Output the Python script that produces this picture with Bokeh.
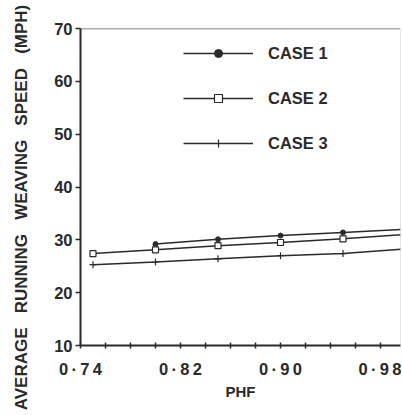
import math
from bokeh.plotting import figure
from bokeh.layouts import row
from bokeh.models import FixedTicker, Range1d, Legend, LegendItem, Span, Label
from bokeh.embed import file_html
from bokeh.resources import INLINE

# ---- data ----
phf_case1 = [0.80, 0.85, 0.90, 0.95, 1.00]
speed_case1 = [29.2, 30.1, 30.8, 31.4, 32.0]
phf_case23 = [0.75, 0.80, 0.85, 0.90, 0.95, 1.00]
speed_case2 = [27.4, 28.1, 28.9, 29.5, 30.2, 31.0]
speed_case3 = [25.3, 25.8, 26.4, 27.0, 27.4, 28.3]
series_names = ["CASE 1", "CASE 2", "CASE 3"]
x_major_ticks = [0.74, 0.82, 0.90, 0.98]
x_tick_labels = ["0\u2009·\u20097\u20094", "0\u2009·\u20098\u20092",
                 "0\u2009·\u20099\u20090", "0\u2009·\u20099\u20098"]
x_minor_ticks = [0.76, 0.78, 0.80, 0.84, 0.86, 0.88, 0.92, 0.94, 0.96]
y_ticks = [10, 20, 30, 40, 50, 60, 70]
y_title_words = ["AVERAGE", "RUNNING", "WEAVING", "SPEED", "(MPH)"]

FONT = "Liberation Sans"
INK = "#2a2a2a"
X_END = 0.996
H = 412
LEFT_W = 32

# ---- narrow strip carrying the rotated y-axis title ----
strip = figure(width=LEFT_W, height=H, output_backend="svg", toolbar_location=None,
               x_range=Range1d(0, 1), y_range=Range1d(0, 1),
               x_axis_type=None, y_axis_type=None,
               min_border_left=0, min_border_right=0, min_border_top=0,
               min_border_bottom=0, frame_align=False)
strip.outline_line_color = None
strip.xgrid.visible = False
strip.ygrid.visible = False
strip.add_layout(Label(x=21, y=H - 207, x_units="screen", y_units="screen",
                       text=" \u00a0 ".join(y_title_words), angle=math.pi / 2,
                       text_align="center", text_baseline="middle",
                       text_font=FONT, text_font_style="bold", text_font_size="17px",
                       text_color=INK))

# ---- main chart ----
p = figure(width=401 - LEFT_W, height=H, output_backend="svg", toolbar_location=None,
           x_range=Range1d(0.74, X_END), y_range=Range1d(10, 70),
           min_border_left=80 - LEFT_W, min_border_top=28, min_border_right=1,
           min_border_bottom=67, frame_align=False)
p.outline_line_color = None
p.xgrid.visible = False
p.ygrid.visible = False

# frame top / right
p.add_layout(Span(location=70, dimension="width", line_color="#555555", line_width=1.5))
p.add_layout(Span(location=X_END, dimension="height", line_color="#d0d0d0", line_width=1))

# axes
p.xaxis.ticker = FixedTicker(ticks=x_major_ticks, minor_ticks=x_minor_ticks)
p.xaxis.major_label_overrides = {t: l for t, l in zip(x_major_ticks, x_tick_labels)}
p.yaxis.ticker = FixedTicker(ticks=y_ticks)
for ax in (p.xaxis, p.yaxis):
    ax.axis_line_color = INK
    ax.axis_line_width = 2
    ax.major_tick_line_color = INK
    ax.minor_tick_line_color = INK
    ax.major_tick_line_width = 1.5
    ax.minor_tick_line_width = 1.5
    ax.major_label_text_font = FONT
    ax.major_label_text_font_style = "bold"
    ax.major_label_text_color = INK
    ax.major_label_text_font_size = "16.5px"
    ax.axis_label_text_font = FONT
    ax.axis_label_text_font_style = "bold"
    ax.axis_label_text_color = INK
p.xaxis.major_tick_in = 3
p.xaxis.major_tick_out = 3
p.xaxis.minor_tick_in = 3
p.xaxis.minor_tick_out = 3
p.xaxis.major_label_standoff = 11
p.xaxis.axis_label = "PHF"
p.xaxis.axis_label_text_font_size = "15px"
p.xaxis.axis_label_standoff = 2
p.yaxis.major_tick_in = 0
p.yaxis.major_tick_out = 5
p.yaxis.minor_tick_in = 0
p.yaxis.minor_tick_out = 0
p.yaxis.major_label_standoff = 3

# series
l1 = p.line(phf_case1, speed_case1, line_color=INK, line_width=1.5)
m1 = p.scatter(phf_case1, speed_case1, marker="circle", size=5,
               fill_color=INK, line_color=INK)
l2 = p.line(phf_case23, speed_case2, line_color=INK, line_width=1.5)
m2 = p.scatter(phf_case23, speed_case2, marker="square", size=6,
               fill_color="white", line_color=INK, line_width=1.2)
l3 = p.line(phf_case23, speed_case3, line_color=INK, line_width=1.5)
m3 = p.scatter(phf_case23, speed_case3, marker="cross", size=7,
               line_color=INK, line_width=1.2)

legend = Legend(items=[LegendItem(label=series_names[0], renderers=[l1, m1]),
                       LegendItem(label=series_names[1], renderers=[l2, m2]),
                       LegendItem(label=series_names[2], renderers=[l3, m3])],
                location=(103, 192), glyph_width=70, glyph_height=20,
                label_height=20, spacing=25, padding=0, margin=0,
                label_standoff=15, border_line_color=None,
                background_fill_alpha=0,
                label_text_font=FONT, label_text_font_style="bold",
                label_text_font_size="16.5px", label_text_color=INK)
p.add_layout(legend)

layout = row(strip, p, spacing=0)
open("out.html", "w").write(file_html(layout, INLINE))
